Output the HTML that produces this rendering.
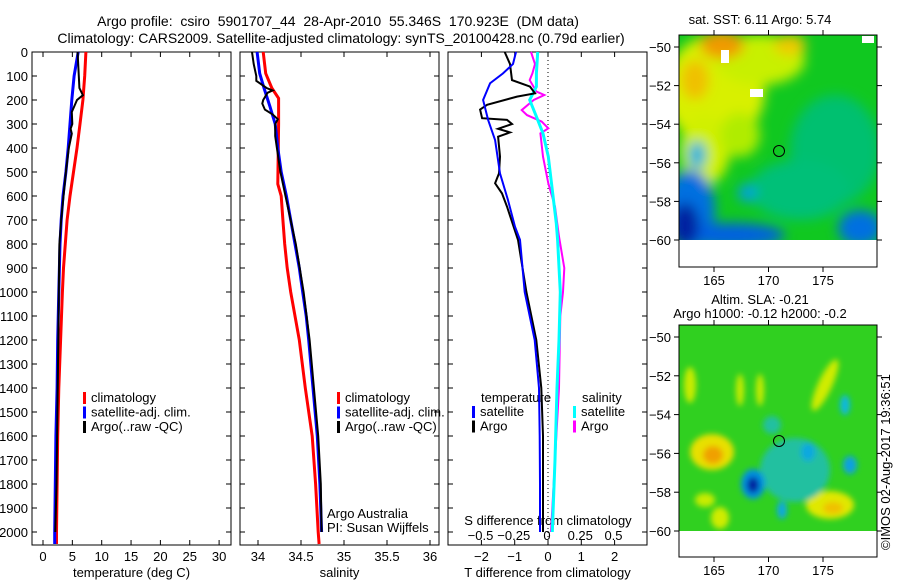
<!DOCTYPE html>
<html><head><meta charset="utf-8">
<style>
body{margin:0;background:#fff;}
svg{display:block;font-family:"Liberation Sans",sans-serif;}
text{font-size:13px;fill:#000;}
</style></head>
<body>
<svg id="chart" width="900" height="580" viewBox="0 0 900 580">
<defs>
<filter id="bl" x="-50%" y="-50%" width="200%" height="200%"><feGaussianBlur stdDeviation="6"/></filter>
<filter id="bl2" x="-50%" y="-50%" width="200%" height="200%"><feGaussianBlur stdDeviation="3"/></filter>
<clipPath id="c1"><rect x="679" y="35" width="198" height="205"/></clipPath>
<clipPath id="c2"><rect x="679" y="325" width="198" height="206"/></clipPath>
</defs>
<text x="338" y="26" text-anchor="middle" style="font-size:14px;white-space:pre" xml:space="preserve">Argo profile:  csiro  5901707_44  28-Apr-2010  55.346S  170.923E  (DM data)</text>
<text x="341" y="43" text-anchor="middle" style="font-size:14px">Climatology: CARS2009. Satellite-adjusted climatology: synTS_20100428.nc (0.79d earlier)</text>

<!-- maps -->
<g>
<text x="760" y="24" text-anchor="middle">sat. SST: 6.11 Argo: 5.74</text>
<g clip-path="url(#c1)">
<rect x="679" y="35" width="198" height="205" fill="#10c820"/>
<g filter="url(#bl)">
<ellipse cx="715" cy="90" rx="50" ry="55" fill="#d8f000"/>
<ellipse cx="760" cy="60" rx="45" ry="25" fill="#c8f000"/>
<ellipse cx="705" cy="150" rx="25" ry="35" fill="#d0f000"/>
<ellipse cx="740" cy="135" rx="20" ry="22" fill="#b0ec00"/>
<ellipse cx="722" cy="45" rx="22" ry="14" fill="#f09a00"/>
<ellipse cx="695" cy="80" rx="14" ry="20" fill="#f0c000"/>
<ellipse cx="790" cy="45" rx="16" ry="10" fill="#f0c800"/>
<ellipse cx="835" cy="150" rx="45" ry="55" fill="#00c070"/>
<ellipse cx="800" cy="190" rx="50" ry="30" fill="#00c078"/>
<ellipse cx="690" cy="210" rx="25" ry="40" fill="#0070e0"/>
<ellipse cx="730" cy="235" rx="55" ry="12" fill="#0060e0"/>
<ellipse cx="860" cy="228" rx="22" ry="18" fill="#0070e0"/>
<ellipse cx="685" cy="225" rx="14" ry="22" fill="#0020a0"/>
<ellipse cx="747" cy="193" rx="9" ry="9" fill="#00a0e0"/>
<ellipse cx="697" cy="155" rx="9" ry="14" fill="#00b0e0"/>
</g>
<rect x="721" y="50" width="8" height="13" fill="#fff"/>
<rect x="750" y="89" width="13" height="8" fill="#fff"/>
<rect x="862" y="36" width="12" height="7" fill="#fff"/>
</g>
<rect x="679" y="240" width="198" height="27" fill="#fff"/>
<circle cx="779" cy="151" r="5.5" fill="none" stroke="#000"/>
<rect x="679" y="35" width="198" height="232" fill="none" stroke="#000"/>
</g>
<g>
<text x="760" y="304" text-anchor="middle">Altim. SLA: -0.21</text>
<text x="760" y="318" text-anchor="middle">Argo h1000: -0.12 h2000: -0.2</text>
<g clip-path="url(#c2)">
<rect x="679" y="325" width="198" height="206" fill="#30d020"/>
<g filter="url(#bl2)">
<ellipse cx="712" cy="452" rx="22" ry="18" fill="#e8e000"/>
<ellipse cx="713" cy="455" rx="10" ry="9" fill="#f0a000"/>
<ellipse cx="830" cy="505" rx="24" ry="14" fill="#e0e800"/>
<ellipse cx="833" cy="508" rx="10" ry="6" fill="#f0c000"/>
<ellipse cx="825" cy="385" rx="7" ry="28" fill="#d0ec00" transform="rotate(25 825 385)"/>
<ellipse cx="795" cy="470" rx="35" ry="32" fill="#20c0a0"/>
<ellipse cx="753" cy="484" rx="12" ry="15" fill="#0090e0"/>
<ellipse cx="753" cy="485" rx="6" ry="8" fill="#0020a0"/>
<ellipse cx="808" cy="452" rx="7" ry="9" fill="#10a8e0"/>
<ellipse cx="850" cy="465" rx="7" ry="9" fill="#10a0e0"/>
<ellipse cx="845" cy="405" rx="5" ry="10" fill="#10b8e0"/>
<ellipse cx="782" cy="510" rx="5" ry="9" fill="#10a8e0"/>
<ellipse cx="720" cy="518" rx="9" ry="11" fill="#d0ec00"/>
<ellipse cx="772" cy="425" rx="9" ry="9" fill="#20c0a0"/>
<ellipse cx="690" cy="385" rx="6" ry="18" fill="#c8ec00"/>
<ellipse cx="740" cy="390" rx="4" ry="16" fill="#c8ec00"/>
<ellipse cx="705" cy="500" rx="10" ry="7" fill="#c8ec00"/>
<ellipse cx="760" cy="390" rx="4" ry="16" fill="#c8ec00"/>
</g>
</g>
<rect x="679" y="531" width="198" height="26" fill="#fff"/>
<circle cx="779" cy="441" r="5.5" fill="none" stroke="#000"/>
<rect x="679" y="325" width="198" height="232" fill="none" stroke="#000"/>
<text transform="translate(890,550) rotate(-90)">©IMOS 02-Aug-2017 19:36:51</text>
</g>
<g id="axes"></g>
<g id="series"></g>
</svg>
<script>
// depth levels (m)
const tDepth=[0,100,200,300,400,500,600,700,800,900,1000,1200,1400,1600,1800,2000,2050];
const tClim=[7.3,7.1,6.8,6.3,5.8,5.2,4.6,4.1,3.8,3.5,3.3,3.0,2.7,2.5,2.4,2.3,2.3];
const tSat=[6.0,5.3,4.9,4.6,4.3,3.9,3.4,3.1,2.9,2.8,2.7,2.5,2.4,2.2,2.1,2.0,2.0];
const tArgoDepth=[0,100,150,180,200,250,300,320,340,400,500,600,700,800,1000,1200,1400,1600,1800,2000];
const tArgo=[5.9,6.1,6.2,6.8,5.8,4.9,5.0,4.7,4.9,4.4,3.9,3.5,3.1,2.8,2.7,2.6,2.5,2.4,2.3,2.1];
const sDepth=[0,89,150,193,300,550,600,700,800,900,1000,1100,1200,1400,1600,1800,2000,2050];
const sClim=[34.06,34.09,34.16,34.24,34.24,34.23,34.27,34.29,34.31,34.34,34.38,34.43,34.48,34.55,34.63,34.67,34.70,34.71];
const sSatDepth=[0,89,150,228,300,400,500,600,700,800,900,1000,1100,1200,1400,1600,1800,2000];
const sSat=[33.99,34.02,34.07,34.14,34.2,34.23,34.27,34.33,34.38,34.43,34.48,34.52,34.56,34.59,34.64,34.69,34.72,34.74];
const sArgoDepth=[0,50,100,120,150,160,170,200,215,240,260,280,300,350,400,500,600,800,1000,1200,1400,1600,1800,2000];
const sArgo=[33.93,33.95,33.98,33.98,34.1,34.17,34.11,34.06,34.05,34.08,34.17,34.23,34.2,34.2,34.22,34.26,34.32,34.44,34.53,34.6,34.65,34.7,34.73,34.74];
const dtSatDepth=[0,50,89,130,200,283,367,506,617,728,783,1000,1200,1400,1600,1800,2000];
const dtSat=[-0.96,-1.05,-1.35,-1.74,-1.95,-1.8,-1.59,-1.44,-1.2,-0.99,-0.84,-0.7,-0.4,-0.27,-0.25,-0.24,-0.24];
const dtArgoDepth=[0,50,117,144,172,186,220,240,276,283,300,320,335,353,436,506,547,589,644,783,1000,1200,1400,1600,1800,2000];
const dtArgo=[-1.3,-1.14,-1.08,-0.54,-0.39,-0.93,-1.83,-2.04,-1.98,-1.23,-1.08,-1.5,-1.14,-1.5,-1.44,-1.47,-1.59,-1.38,-1.23,-0.9,-0.65,-0.35,-0.2,-0.15,-0.15,-0.15];
const dsArgoDepth=[0,50,89,117,165,179,200,242,263,290,318,339,436,547,644,769,900,1000,1100,1400,1700,2000];
const dsArgo=[-0.12,-0.09,-0.11,-0.13,-0.08,-0.02,-0.1,-0.19,-0.15,-0.04,0.01,-0.05,-0.03,0.01,0.06,0.09,0.13,0.12,0.1,0.09,0.06,0.03];
const dsSatDepth=[0,89,144,200,269,339,436,575,714,783,1000,1200,1400,1700,2000];
const dsSat=[-0.07,-0.08,-0.08,-0.13,-0.08,-0.03,0.01,0.04,0.07,0.08,0.1,0.09,0.075,0.06,0.04];
const depthTicks=[0,100,200,300,400,500,600,700,800,900,1000,1100,1200,1300,1400,1500,1600,1700,1800,1900,2000];
const tTicks=[0,5,10,15,20,25,30];
const sTicks=[34,34.5,35,35.5,36];
const dtTicks=[-2,-1,0,1,2];
const dsTicks=[-0.5,-0.25,0,0.25,0.5];
const latTicks=[-50,-52,-54,-56,-58,-60];
const lonTicks=[165,170,175];

const NS='http://www.w3.org/2000/svg';
const ax=document.getElementById('axes'), se=document.getElementById('series');
function mk(t,a,p,txt){const e=document.createElementNS(NS,t);for(const k in a)e.setAttribute(k,a[k]);if(txt!==undefined)e.textContent=txt;(p||ax).appendChild(e);return e;}
const yD=d=>52+d*0.24;
const P1={x0:32,x1:231,f:v=>43+v*5.87};
const P2={x0:240,x1:439,f:v=>258+(v-34)*86};
const P3={x0:448,x1:647,f:v=>548+v*33.3,g:v=>547+v*133};

function frame(P,name,labelsY){
  const r=mk('rect',{x:P.x0,y:52,width:P.x1-P.x0,height:493,fill:'none',stroke:'#000'});
  
  
  depthTicks.forEach(d=>{
    mk('line',{x1:P.x0,x2:P.x0+5,y1:yD(d),y2:yD(d),stroke:'#000'});
    mk('line',{x1:P.x1-5,x2:P.x1,y1:yD(d),y2:yD(d),stroke:'#000'});
    if(labelsY){const t=mk('text',{x:P.x0-4,y:yD(d)+5,'text-anchor':'end'},undefined,d);
      
      }
  });
}
function xticks(P,ticks,f,ly,title,tname){
  ticks.forEach(v=>{const x=f(v);
    mk('line',{x1:x,x2:x,y1:545,y2:540,stroke:'#000'});
    mk('line',{x1:x,x2:x,y1:52,y2:57,stroke:'#000'});
    const t=mk('text',{x:x,y:ly,'text-anchor':'middle'},undefined,String(v).replace('-','\u2212'));
    
    });
  const tt=mk('text',{x:(P.x0+P.x1)/2,y:577,'text-anchor':'middle'},undefined,title);
  
  
}
frame(P1,'temperature-panel',true);frame(P2,'salinity-panel',false);frame(P3,'difference-panel',false);
xticks(P1,tTicks,P1.f,561,'temperature (deg C)','temperature-axis-title');
xticks(P2,sTicks,P2.f,561,'salinity','salinity-axis-title');
xticks(P3,dtTicks,P3.f,561,'T difference from climatology','t-diff-axis-title');
dsTicks.forEach(v=>{const t=mk('text',{x:P3.g(v),y:540,'text-anchor':'middle'},undefined,String(v).replace('-','\u2212'));
  
  });
const sdt=mk('text',{x:548,y:525,'text-anchor':'middle'},undefined,'S difference from climatology');


mk('line',{x1:548,x2:548,y1:52,y2:545,stroke:'#000','stroke-dasharray':'1,3'});

function line(ds,vs,f,col,w,name){
  const pts=ds.map((d,i)=>f(vs[i]).toFixed(1)+','+yD(d).toFixed(1)).join(' ');
  const p=mk('polyline',{points:pts,fill:'none',stroke:col,'stroke-width':w},se);
  
  
}
line(tDepth,tClim,P1.f,'#f00',3,'temperature-climatology-line');
line(tDepth,tSat,P1.f,'#00f',3,'temperature-satellite-line');
line(tArgoDepth,tArgo,P1.f,'#000',2,'temperature-argo-line');
line(sDepth,sClim,P2.f,'#f00',3,'salinity-climatology-line');
line(sSatDepth,sSat,P2.f,'#00f',3,'salinity-satellite-line');
line(sArgoDepth,sArgo,P2.f,'#000',2,'salinity-argo-line');
line(dsArgoDepth,dsArgo,P3.g,'#f0f',2,'s-diff-argo-line');
line(dsSatDepth,dsSat,P3.g,'#0ff',3,'s-diff-satellite-line');
line(dtArgoDepth,dtArgo,P3.f,'#000',2,'t-diff-argo-line');
line(dtSatDepth,dtSat,P3.f,'#00f',2,'t-diff-satellite-line');

function legend(x,y,items,name){
  items.forEach((it,i)=>{
    mk('rect',{x:x,y:y+i*14.5-10,width:3,height:12,fill:it[1]});
    const t=mk('text',{x:x+8,y:y+i*14.5},undefined,it[0]);
    
    
  });
}
legend(83,402,[['climatology','#f00'],['satellite-adj. clim.','#00f'],['Argo(..raw -QC)','#000']],'legend');
legend(337,402,[['climatology','#f00'],['satellite-adj. clim.','#00f'],['Argo(..raw -QC)','#000']],'legend2');
let t1=mk('text',{x:481,y:402},undefined,'temperature');
let t2=mk('text',{x:582,y:402},undefined,'salinity');
legend(472,416,[['satellite','#00f'],['Argo','#000']],'legend-t');
legend(573,416,[['satellite','#0ff'],['Argo','#f0f']],'legend-s');
let a1=mk('text',{x:327,y:518},undefined,'Argo Australia');
let a2=mk('text',{x:327,y:532},undefined,'PI: Susan Wijffels');

// map ticks
[[47,19.3],[337,19.4]].forEach(([y0,s],m)=>{
  latTicks.forEach(l=>{const y=y0+(-50-l)*s;
    mk('line',{x1:679,x2:674,y1:y,y2:y,stroke:'#000'});mk('line',{x1:877,x2:882,y1:y,y2:y,stroke:'#000'});
    const t=mk('text',{x:671,y:y+5,'text-anchor':'end'},undefined,String(l).replace('-','\u2212'));
    
    });
  const top=m?325:35,bot=m?557:267;
  lonTicks.forEach(l=>{const x=714+(l-165)*10.9;
    mk('line',{x1:x,x2:x,y1:top,y2:top-5,stroke:'#000'});mk('line',{x1:x,x2:x,y1:bot,y2:bot+5,stroke:'#000'});
    const t=mk('text',{x:x,y:bot+18,'text-anchor':'middle'},undefined,l);
    
    });
});
</script>
</body></html>
